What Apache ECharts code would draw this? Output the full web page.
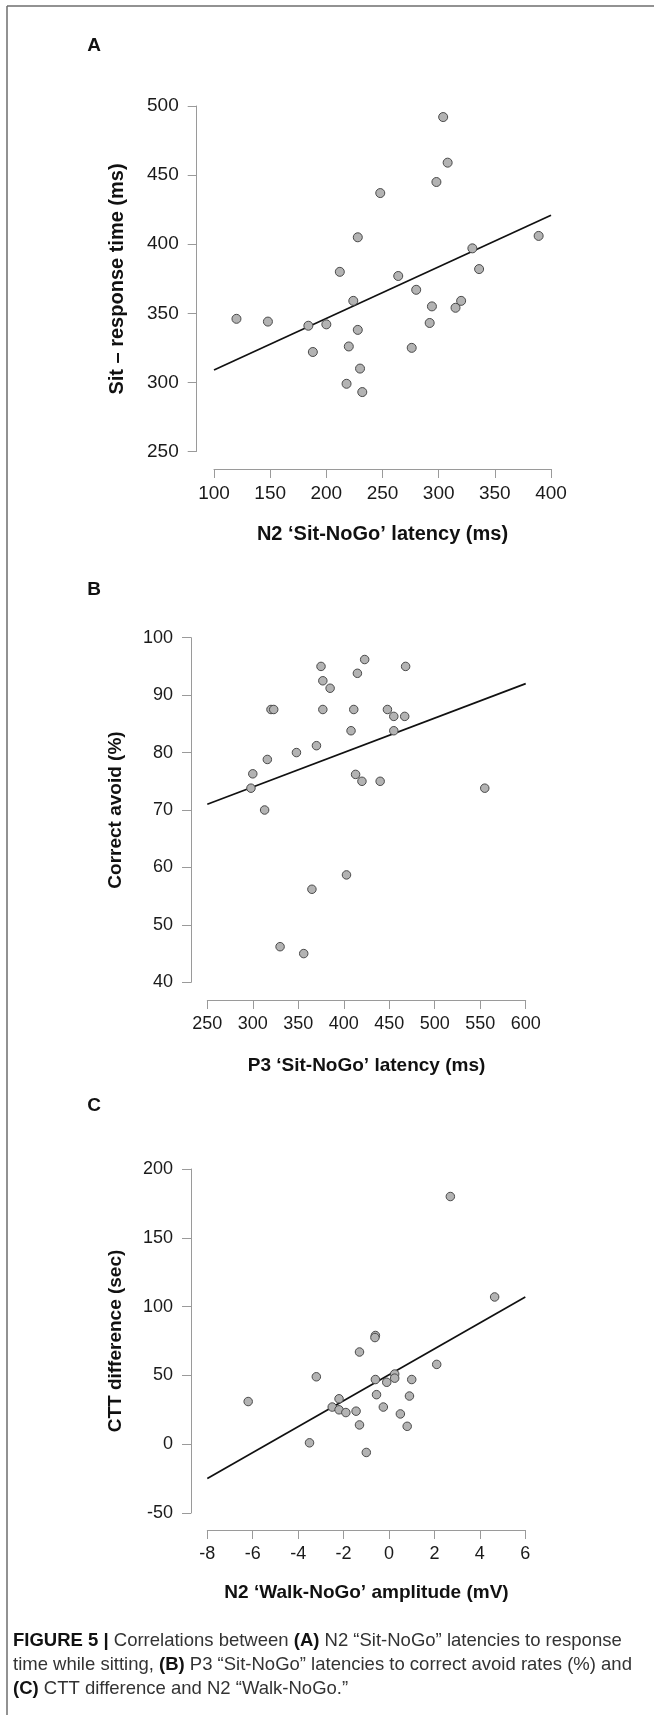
<!DOCTYPE html>
<html><head><meta charset="utf-8">
<script src="https://cdn.jsdelivr.net/npm/echarts@6/dist/echarts.min.js"></script>
<style>html,body{margin:0;padding:0;background:#fff}#c{width:654px;height:1715px}</style>
</head><body><div id="c"></div>
<script>
// Panel A: N2 'Sit-NoGo' latency (ms) vs Sit – response time (ms)
const aX = [120,148,184,200,188,220,228,218,230,232,224,212,228,248,264,280,276,294,292,298,304,308,315,320,330,336,389];
const aY = [346,344,341,342,322,326,338,299,310,293,359,380,405,437,377,367,325,355,343,445,492,459,354,359,397,382,406];
const aFitX = [100,400];
const aFitY = [309,421];
const aTicksX = [100,400,50];
const aTicksY = [250,500,50];

// Panel B: P3 'Sit-NoGo' latency (ms) vs Correct avoid (%)
const bX = [298,300,313,316,320,323,330,348,356,365,370,375,377,377,385,403,408,411,413,415,420,423,440,448,455,455,467,468,555];
const bY = [73.8,76.3,70,78.8,87.5,87.5,46.2,80,45,56.2,81.2,95,92.5,87.5,91.2,58.7,83.8,87.5,76.2,93.8,75,96.2,75,87.5,86.3,83.8,86.3,95,73.8];
const bFitX = [250,600];
const bFitY = [71,92];
const bTicksX = [250,600,50];
const bTicksY = [40,100,10];

// Panel C: N2 'Walk-NoGo' amplitude (mV) vs CTT difference (sec)
const cX = [-6.2,-3.5,-3.2,-2.5,-2.2,-2.2,-1.9,-1.45,-1.3,-1.3,-1.0,-0.6,-0.62,-0.6,-0.55,-0.25,-0.1,0.25,0.25,0.5,0.8,0.9,1.0,2.1,2.7,4.65];
const cY = [31,1,49,27,33,25,23,24,14,67,-6,79,77.5,47,36,27,45,51,48,22,13,35,47,58,180,107];
const cFitX = [-8,6];
const cFitY = [-25,107];
const cTicksX = [-8,6,2];
const cTicksY = [-50,200,50];

const FONT = "'Liberation Sans', Arial, Helvetica, sans-serif";
const pair = (xs, ys) => xs.map((x, i) => [x, ys[i]]);

const chart = echarts.init(document.getElementById('c'), null, {renderer: 'canvas'});

function xAx(gi, t, off, fs) {
  return {
    gridIndex: gi, type: 'value', min: t[0], max: t[1], interval: t[2], offset: off,
    axisLine: {show: true, onZero: false, lineStyle: {color: '#9a9a9a', width: 1}},
    axisTick: {show: true, length: 9, lineStyle: {color: '#9a9a9a', width: 1}},
    splitLine: {show: false},
    axisLabel: {fontFamily: FONT, fontSize: fs, color: '#1a1a1a', margin: 15, showMinLabel: true, showMaxLabel: true}
  };
}
function yAx(gi, t, off, fs) {
  return {
    gridIndex: gi, type: 'value', min: t[0], max: t[1], interval: t[2], offset: off,
    axisLine: {show: true, onZero: false, lineStyle: {color: '#9a9a9a', width: 1}},
    axisTick: {show: true, length: 9, lineStyle: {color: '#9a9a9a', width: 1}},
    splitLine: {show: false},
    axisLabel: {fontFamily: FONT, fontSize: fs, color: '#1a1a1a', margin: 18, showMinLabel: true, showMaxLabel: true}
  };
}
function scat(i, data, size) {
  return {type: 'scatter', xAxisIndex: i, yAxisIndex: i, data: data, symbol: 'circle', symbolSize: size,
    itemStyle: {color: '#b3b3b3', borderColor: '#4a4a4a', borderWidth: 1, opacity: 1}, z: 3};
}
function fit(i, xs, ys) {
  return {type: 'line', xAxisIndex: i, yAxisIndex: i, data: pair(xs, ys), symbol: 'none',
    lineStyle: {color: '#111', width: 1.7}, z: 2};
}
function txt(x, y, text, fs, bold, rot) {
  return {type: 'text', x: x, y: y, rotation: rot || 0, silent: true,
    style: {text: text, font: (bold ? 'bold ' : '') + fs + 'px ' + FONT, fill: '#111', align: 'center', verticalAlign: 'middle'}};
}
const CAP = 18.5;
const capRich = {
  b: {font: 'bold ' + CAP + 'px ' + FONT, fill: '#111'},
  r: {font: CAP + 'px ' + FONT, fill: '#333'}
};
function cap(y, text) {
  return {type: 'text', x: 13, y: y, silent: true,
    style: {text: text, rich: capRich, font: CAP + 'px ' + FONT, fill: '#333', align: 'left', verticalAlign: 'middle'}};
}

chart.setOption({
  animation: false,
  backgroundColor: '#fff',
  grid: [
    {left: 214, top: 106, width: 337, height: 345.5},
    {left: 207.3, top: 637.7, width: 318.4, height: 344.6},
    {left: 207.3, top: 1169, width: 318, height: 344}
  ],
  xAxis: [xAx(0, aTicksX, 17.5, 19), xAx(1, bTicksX, 17.7, 18), xAx(2, cTicksX, 17, 18)],
  yAxis: [yAx(0, aTicksY, 17.3, 19), yAx(1, bTicksY, 16.3, 18), yAx(2, cTicksY, 16.3, 18)],
  series: [
    scat(0, pair(aX, aY), 9), fit(0, aFitX, aFitY),
    scat(1, pair(bX, bY), 8.5), fit(1, bFitX, bFitY),
    scat(2, pair(cX, cY), 8.5), fit(2, cFitX, cFitY)
  ],
  graphic: [
    {type: 'line', shape: {x1: 7, y1: 6, x2: 654, y2: 6}, style: {stroke: '#6e6e6e', lineWidth: 1.5}, silent: true},
    {type: 'line', shape: {x1: 7, y1: 6, x2: 7, y2: 1715}, style: {stroke: '#6e6e6e', lineWidth: 1.5}, silent: true},
    txt(94, 46, 'A', 19, true),
    txt(94, 590, 'B', 19, true),
    txt(94, 1106, 'C', 19, true),
    txt(117, 279, 'Sit – response time (ms)', 20, true, Math.PI / 2),
    txt(382.5, 534, 'N2 ‘Sit-NoGo’ latency (ms)', 20, true),
    txt(116, 810, 'Correct avoid (%)', 19, true, Math.PI / 2),
    txt(366.5, 1066, 'P3 ‘Sit-NoGo’ latency (ms)', 19, true),
    txt(116, 1341, 'CTT difference (sec)', 19, true, Math.PI / 2),
    txt(366.5, 1593, 'N2 ‘Walk-NoGo’ amplitude (mV)', 19, true),
    cap(1641, '{b|FIGURE 5 |}{r| Correlations between }{b|(A)}{r| N2 “Sit-NoGo” latencies to response}'),
    cap(1665, '{r|time while sitting, }{b|(B)}{r| P3 “Sit-NoGo” latencies to correct avoid rates (%) and}'),
    cap(1689, '{b|(C)}{r| CTT difference and N2 “Walk-NoGo.”}')
  ]
});
</script></body></html>
